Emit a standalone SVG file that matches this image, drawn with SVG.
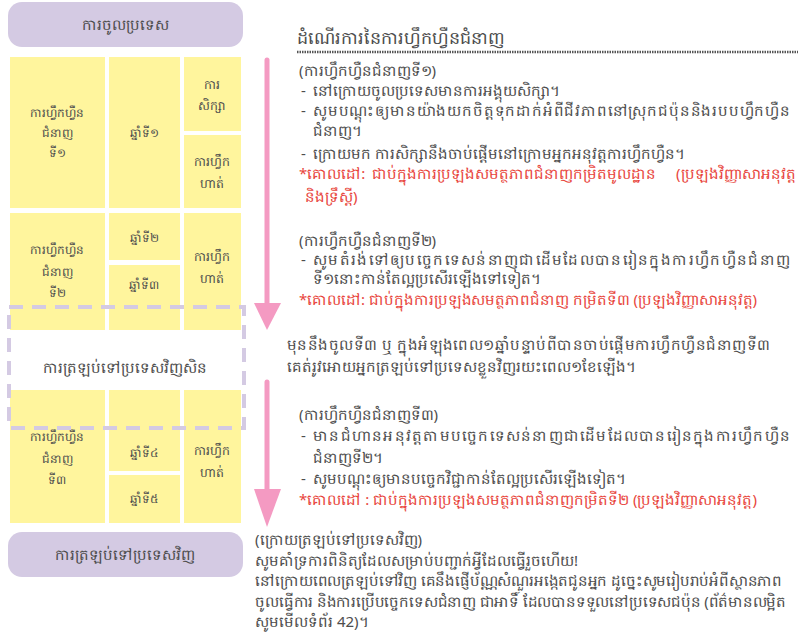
<svg xmlns="http://www.w3.org/2000/svg" width="798" height="634" viewBox="0 0 798 634">
<style>
.t{font-family:"Noto Sans","DejaVu Sans",sans-serif;fill:#4d4d4d;font-size:15px}
.c{text-anchor:middle}
.s{font-size:12px}
.s3{font-size:12.5px}
.r{fill:#e8453c}
.y{fill:#fff59d}
.p{fill:#d4cae3}
.h{font-size:15px}
</style>
<rect width="798" height="634" fill="#ffffff"/>

<g id="n-entry"><rect class="p" x="8" y="2" width="235" height="45" rx="14"/><text class="t h c" x="125" y="30">ការចូលប្រទេស</text></g>

<g id="n-stage1">
<rect class="y" x="10" y="57" width="95" height="151"/>
<text class="t s c" x="57" y="117">ការហ្វឹកហ្វឺន</text>
<text class="t s c" x="57" y="137">ជំនាញ</text>
<text class="t s c" x="57" y="157">ទី១</text>
</g>
<g id="n-year1"><rect class="y" x="109" y="57" width="71" height="151"/><text class="t s c" x="144" y="137">ឆ្នាំទី១</text></g>
<g id="n-study"><rect class="y" x="184" y="57" width="57" height="74"/><text class="t s3 c" x="212" y="89">ការ</text><text class="t s3 c" x="212" y="110">សិក្សា</text></g>
<g id="n-train1"><rect class="y" x="184" y="135" width="57" height="73"/><text class="t s3 c" x="212" y="166">ការហ្វឹក</text><text class="t s3 c" x="212" y="188">ហាត់</text></g>

<g id="n-stage2">
<rect class="y" x="10" y="213" width="95" height="117"/>
<text class="t s c" x="57" y="254">ការហ្វឹកហ្វឺន</text>
<text class="t s c" x="57" y="276">ជំនាញ</text>
<text class="t s c" x="57" y="297">ទី២</text>
</g>
<g id="n-year2"><rect class="y" x="109" y="213" width="71" height="47"/><text class="t s c" x="144" y="242">ឆ្នាំទី២</text></g>
<g id="n-year3"><rect class="y" x="109" y="265" width="71" height="65"/><text class="t s c" x="144" y="289">ឆ្នាំទី៣</text></g>
<g id="n-train2"><rect class="y" x="184" y="213" width="57" height="117"/><text class="t s3 c" x="212" y="261">ការហ្វឹក</text><text class="t s3 c" x="212" y="283">ហាត់</text></g>

<g id="n-stage3">
<rect class="y" x="10" y="390" width="95" height="133"/>
<text class="t s c" x="57" y="441">ការហ្វឹកហ្វឺន</text>
<text class="t s c" x="57" y="463">ជំនាញ</text>
<text class="t s c" x="57" y="484">ទី៣</text>
</g>
<g id="n-year4"><rect class="y" x="109" y="390" width="71" height="81"/><text class="t s c" x="144" y="457">ឆ្នាំទី៤</text></g>
<g id="n-year5"><rect class="y" x="109" y="475" width="71" height="48"/><text class="t s c" x="144" y="503">ឆ្នាំទី៥</text></g>
<g id="n-train3"><rect class="y" x="184" y="390" width="57" height="133"/><text class="t s3 c" x="212" y="455">ការហ្វឹក</text><text class="t s3 c" x="212" y="477">ហាត់</text></g>

<g id="n-temp-return">
<rect x="9" y="307" width="235" height="121" fill="none" stroke="#d4cae3" stroke-width="4" stroke-dasharray="14 9"/>
<text class="t h c" x="125" y="373">ការត្រឡប់ទៅប្រទេសវិញសិន</text>
</g>

<g id="n-return"><rect class="p" x="8" y="532" width="235" height="45" rx="14"/><text class="t h c" x="125" y="560">ការត្រឡប់ទៅប្រទេសវិញ</text></g>

<g id="connectors" stroke="#f49ac2" stroke-width="5" stroke-linecap="round" fill="none">
<line x1="267" y1="60" x2="267" y2="310"/>
<path d="M254,303 L281,303 L267,330 z" fill="#f49ac2" stroke="none"/>
<line x1="267" y1="382" x2="267" y2="495"/>
<path d="M254,489 L281,489 L267,527 z" fill="#f49ac2" stroke="none"/>
</g>

<g id="description">
<text class="t" x="297" y="44" style="font-size:17.5px">ដំណើរការនៃការហ្វឹកហ្វឺនជំនាញ</text>
<line x1="297" y1="52" x2="798" y2="52" stroke="#555" stroke-width="2.5" stroke-dasharray="1.5 1"/>
<text class="t" x="299" y="76">(ការហ្វឹកហ្វឺនជំនាញទី១)</text>
<text class="t" x="301" y="96">-</text><text class="t" x="313" y="96">នៅក្រោយចូលប្រទេសមានការអង្គុយសិក្សា។</text>
<text class="t" x="301" y="116">-</text><text class="t" x="313" y="116" textLength="477" lengthAdjust="spacing">សូមបណ្តុះឲ្យមានយ៉ាងយកចិត្តទុកដាក់អំពីជីវភាពនៅស្រុកជប៉ុននិងរបបហ្វឹកហ្វឺន</text>
<text class="t" x="313" y="136">ជំនាញ។</text>
<text class="t" x="301" y="159">-</text><text class="t" x="313" y="159">ក្រោយមក ការសិក្សានឹងចាប់ផ្តើមនៅក្រោមអ្នកអនុវត្តការហ្វឹកហ្វឺន។</text>
<text class="t r" x="299" y="179">*គោលដៅ:</text>
<text class="t r" x="372" y="179">ជាប់ក្នុងការប្រឡងសមត្ថភាពជំនាញកម្រិតមូលដ្ឋាន</text>
<text class="t r" x="676" y="179">(ប្រឡងវិញ្ញាសាអនុវត្ត</text>
<text class="t r" x="305" y="202">និងទ្រឹស្តី)</text>

<text class="t" x="299" y="246">(ការហ្វឹកហ្វឺនជំនាញទី២)</text>
<text class="t" x="301" y="265">-</text><text class="t" x="313" y="265" textLength="477" lengthAdjust="spacing">សូមតំរង់ទៅឲ្យបច្ចេកទេសន់នាញជាដើមដែលបានរៀនក្នុងការហ្វឹកហ្វឺនជំនាញ</text>
<text class="t" x="313" y="284">ទី១នោះកាន់តែល្អប្រសើរឡើងទៅទៀត។</text>
<text class="t r" x="299" y="305" textLength="458" lengthAdjust="spacing">*គោលដៅ:  ជាប់ក្នុងការប្រឡងសមត្ថភាពជំនាញ កម្រិតទី៣ (ប្រឡងវិញ្ញាសាអនុវត្ត)</text>

<text class="t" x="287" y="350" textLength="483" lengthAdjust="spacing">មុននឹងចូលទី៣ ឬ ក្នុងអំឡុងពេល១ឆ្នាំបន្ទាប់ពីបានចាប់ផ្តើមការហ្វឹកហ្វឺនជំនាញទី៣</text>
<text class="t" x="287" y="372">គេត់រូវអោយអ្នកត្រឡប់ទៅប្រទេសខ្លួនវិញរយះពេល១ខែឡើង។</text>

<text class="t" x="299" y="420">(ការហ្វឹកហ្វឺនជំនាញទី៣)</text>
<text class="t" x="301" y="441">-</text><text class="t" x="313" y="441" textLength="477" lengthAdjust="spacing">មានជំហានអនុវត្តតាមបច្ចេកទេសន់នាញជាដើមដែលបានរៀនក្នុងការហ្វឹកហ្វឺន</text>
<text class="t" x="313" y="463">ជំនាញទី២។</text>
<text class="t" x="301" y="484">-</text><text class="t" x="313" y="484">សូមបណ្តុះឲ្យមានបច្ចេកវិជ្ជាកាន់តែល្អប្រសើរឡើងទៀត។</text>
<text class="t r" x="299" y="505" textLength="458" lengthAdjust="spacing">*គោលដៅ : ជាប់ក្នុងការប្រឡងសមត្ថភាពជំនាញកម្រិតទី២ (ប្រឡងវិញ្ញាសាអនុវត្ត)</text>

<text class="t" x="255" y="545">(ក្រោយត្រឡប់ទៅប្រទេសវិញ)</text>
<text class="t" x="255" y="566">សូមគាំទ្រការពិនិត្យដែលសម្រាប់បញ្ជាក់អ្វីដែលធ្វើរួចហើយ!</text>
<text class="t" x="255" y="586" textLength="527" lengthAdjust="spacing">នៅក្រោយពេលត្រឡប់ទៅវិញ គេនឹងផ្ញើប័ណ្ណសំណួរអង្កេតជូនអ្នក ដូច្នេះសូមរៀបរាប់អំពីស្ថានភាព</text>
<text class="t" x="255" y="607" textLength="531" lengthAdjust="spacing">ចូលធ្វើការ និងការប្រើបច្ចេកទេសជំនាញ ជាអាទិ៍ ដែលបានទទួលនៅប្រទេសជប៉ុន (ព័ត៌មានលម្អិត</text>
<text class="t" x="255" y="627">សូមមើលទំព័រ 42)។</text>
</g>
</svg>
